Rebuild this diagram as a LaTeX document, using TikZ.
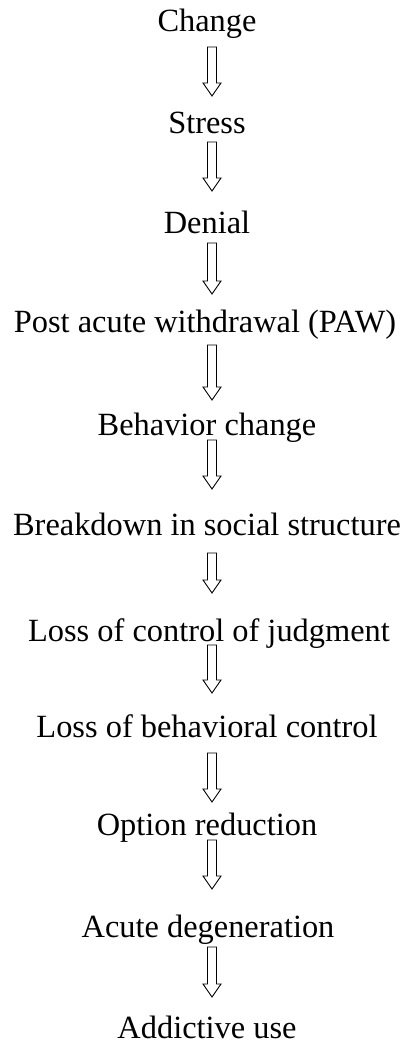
\documentclass[tikz,border=0pt]{standalone}
\usepackage{fontspec}
\setmainfont{Liberation Serif}
\usetikzlibrary{calc}
\tikzset{
  label/.style={anchor=base, inner sep=0pt, font=\fontsize{32.4}{36}\selectfont, text=black},
  hollow/.style={draw=black, fill=white, line width=0.9pt, line join=miter}
}
\newcommand\hollowarrow[2]{%
  \draw[hollow] ($(#1)+(-4.5,0)$) -- ($(#2)+(-4.5,-13)$) -- ($(#2)+(-9,-13)$) -- (#2)
    -- ($(#2)+(9,-13)$) -- ($(#2)+(4.5,-13)$) -- ($(#1)+(4.5,0)$) -- cycle;}
\begin{document}
\begin{tikzpicture}[x=1pt,y=-1pt]
\useasboundingbox (0,0) rectangle (402,1043);
\node[label] (n1) at (207,32) {Change};
\node[label] (n2) at (207,134) {Stress};
\node[label] (n3) at (207,233) {Denial};
\node[label] (n4) at (205,332) {Post acute withdrawal (PAW)};
\node[label] (n5) at (207,435) {Behavior change};
\node[label] (n6) at (207,535) {Breakdown in social structure};
\node[label] (n7) at (209,641) {Loss of control of judgment};
\node[label] (n8) at (207,737) {Loss of behavioral control};
\node[label] (n9) at (207,835) {Option reduction};
\node[label] (n10) at (208,937) {Acute degeneration};
\node[label] (n11) at (207,1038) {Addictive use};
\coordinate (s1) at (212,47);  \coordinate (e1) at (212,96);
\coordinate (s2) at (212,142); \coordinate (e2) at (212,191);
\coordinate (s3) at (212,243); \coordinate (e3) at (212,294);
\coordinate (s4) at (212,345); \coordinate (e4) at (212,400);
\coordinate (s5) at (212,440); \coordinate (e5) at (212,489);
\coordinate (s6) at (212,553); \coordinate (e6) at (212,593);
\coordinate (s7) at (212,645); \coordinate (e7) at (212,693);
\coordinate (s8) at (212,753); \coordinate (e8) at (212,802);
\coordinate (s9) at (212,840); \coordinate (e9) at (212,889);
\coordinate (s10) at (212,947); \coordinate (e10) at (212,997);
\foreach \i in {1,...,10}{\hollowarrow{s\i}{e\i}}
\end{tikzpicture}
\end{document}
